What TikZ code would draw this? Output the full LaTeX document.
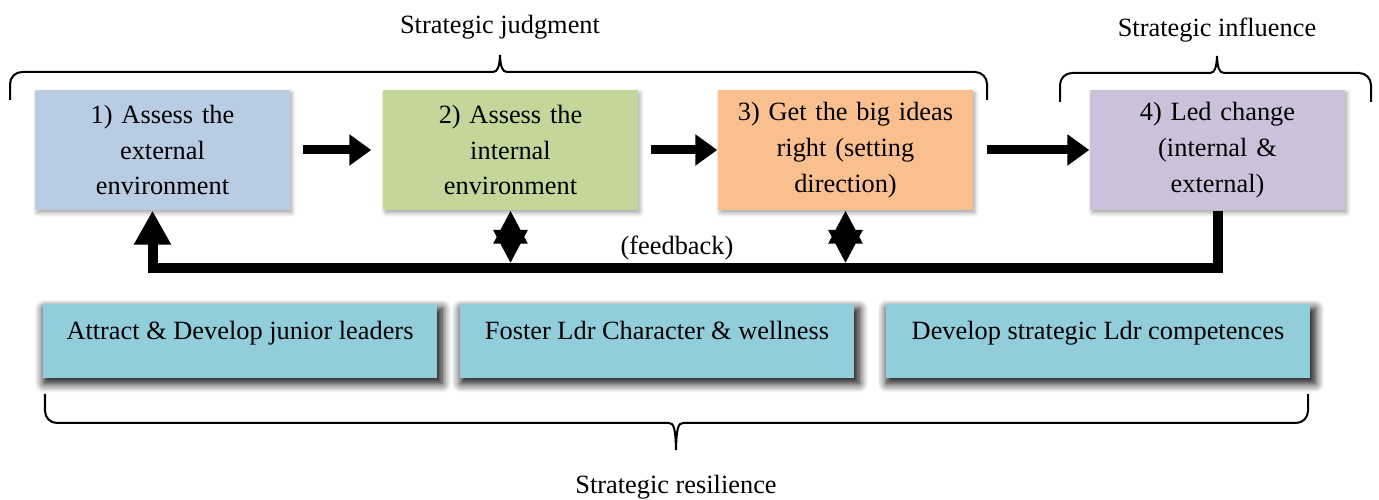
\documentclass[tikz,border=0pt]{standalone}
\usepackage{fontspec}
\setmainfont{Liberation Serif}
\usetikzlibrary{arrows.meta,shadows.blur}
\definecolor{boxblue}{RGB}{184,204,228}
\definecolor{boxgreen}{RGB}{196,215,155}
\definecolor{boxorange}{RGB}{250,191,143}
\definecolor{boxlilac}{RGB}{204,192,218}
\definecolor{boxteal}{RGB}{146,205,220}

\tikzset{
  stepbox/.style={minimum width=2.55cm, minimum height=1.2cm, text width=2.4cm,
    align=center, inner sep=0pt,
    blur shadow={shadow xshift=0.02cm, shadow yshift=-0.03cm,
      shadow blur radius=0.04cm, shadow opacity=35}},
  basebox/.style={fill=boxteal, minimum width=3.94cm, inner xsep=0pt, inner ysep=0pt,
    text height=0.36cm, text depth=0.38cm,
    blur shadow={shadow xshift=0.03cm, shadow yshift=-0.05cm,
      shadow blur radius=0.09cm, shadow blur steps=8, shadow opacity=100,
      shadow scale=1.01}},
  flow/.style={line width=0.09cm, -{Triangle[length=0.22cm,width=0.3cm]}},
  feed/.style={line width=0.1cm, -{Triangle[length=0.34cm,width=0.35cm]}},
  twoway/.style={line width=0.06cm,
    {Triangle[length=0.33cm,width=0.33cm]}-{Triangle[length=0.33cm,width=0.33cm]}},
  bracket/.style={line width=0.02cm}
}

\begin{document}
\begin{tikzpicture}[font=\fontsize{7.5}{10.2}\selectfont]
  \useasboundingbox (0,0) rectangle (13.79,5);

  % Four steps
  \node[stepbox, fill=boxblue] (ext) at (1.625,3.5) {1) Assess the\\external\\environment};
  \node[stepbox, fill=boxgreen] (int) at (5.105,3.5) {2) Assess the\\internal\\environment};
  \node[stepbox, fill=boxorange] (ideas) at (8.455,3.5) {3) Get the big ideas\\right (setting\\direction)};
  \node[stepbox, fill=boxlilac] (change) at (12.175,3.5) {4) Led change\\(internal \&\\external)};

  % Arrows between the steps
  \draw[flow, shorten <=0.12cm, shorten >=0.11cm] (ext) -- (int);
  \draw[flow, shorten <=0.12cm] (int) -- (ideas);
  \draw[flow, shorten <=0.13cm] (ideas) -- (change);

  % Feedback loop
  \coordinate (rail) at (12.175,2.32);
  \draw[feed] (change.south) -- (rail) -| ([xshift=-0.1cm]ext.south);
  \draw[twoway, shorten >=0.05cm] (int.south) -- (int.south |- rail);
  \draw[twoway, shorten >=0.05cm] (ideas.south) -- (ideas.south |- rail);
  \node (fbtext) at (6.77,2.52) {(feedback)};

  % Supporting activities
  \node[basebox] (attract) at (2.40,1.59) {Attract \& Develop junior leaders};
  \node[basebox] (foster) at (6.57,1.59) {Foster Ldr Character \& wellness};
  \node[basebox, minimum width=4.24cm] (develop) at (10.98,1.59) {Develop strategic Ldr competences};

  % Braces and their labels
  \draw[bracket] (0.10,4.00) -- (0.10,4.16) arc[start angle=180, end angle=90, radius=0.12]
    -- (4.93,4.28) .. controls (4.98,4.28) and (4.995,4.34) .. (5.00,4.45)
    .. controls (5.005,4.34) and (5.02,4.28) .. (5.07,4.28)
    -- (9.75,4.28) arc[start angle=90, end angle=0, radius=0.12] -- (9.87,4.00);
  \node (judgment) at (5.00,4.73) {Strategic judgment};

  \draw[bracket] (10.60,3.98) -- (10.60,4.15) arc[start angle=180, end angle=90, radius=0.12]
    -- (12.10,4.27) .. controls (12.15,4.27) and (12.165,4.33) .. (12.17,4.44)
    .. controls (12.175,4.33) and (12.19,4.27) .. (12.24,4.27)
    -- (13.59,4.27) arc[start angle=90, end angle=0, radius=0.12] -- (13.71,3.98);
  \node (influence) at (12.17,4.70) {Strategic influence};

  \draw[bracket] (0.45,1.06) -- (0.45,0.89) arc[start angle=180, end angle=270, radius=0.12]
    -- (6.69,0.77) .. controls (6.74,0.77) and (6.755,0.71) .. (6.76,0.50)
    .. controls (6.765,0.71) and (6.78,0.77) .. (6.83,0.77)
    -- (12.96,0.77) arc[start angle=270, end angle=360, radius=0.12] -- (13.08,1.06);
  \node (resilience) at (6.76,0.13) {Strategic resilience};
\end{tikzpicture}
\end{document}
